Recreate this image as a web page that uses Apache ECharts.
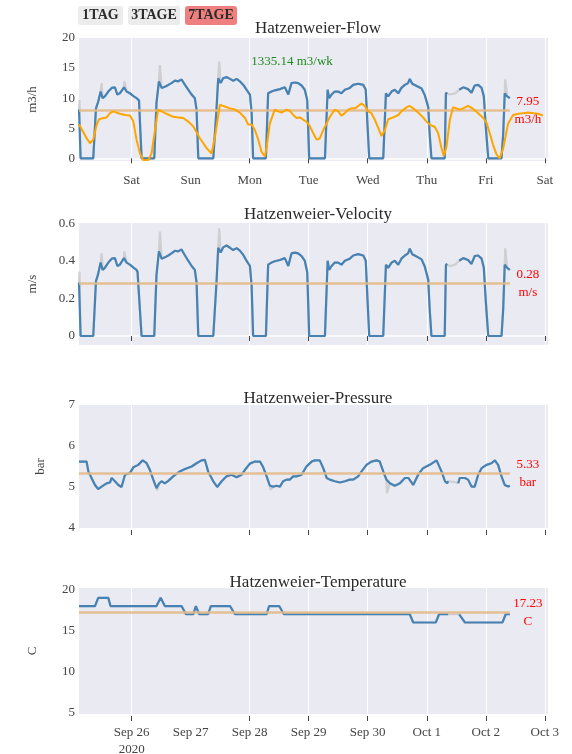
<!DOCTYPE html>
<html><head><meta charset="utf-8">
<script src="https://cdn.jsdelivr.net/npm/echarts@6/dist/echarts.min.js"></script>
<style>html,body{margin:0;padding:0;background:#fff}#c{width:572px;height:754px}</style>
</head><body><div id="c"></div>
<script>
// ---------- DATA (hours relative to 2020-09-26 00:00) ----------
const flowHours = [-21.4,-20.75,-15.6,-14.5,-13.6,-12.6,-11.8,-10.9,-9.5,-8.1,-6.8,-5.8,-4.8,-3.1,-2.05,-0.7,0.9,2.0,2.4,3.0,4.05,
  9.2,10.1,11.1,12.2,13.5,14.9,16.2,17.6,18.9,20.3,21.7,23.0,24.4,25.7,26.4,27.1,
  33.2,34.5,35.2,36.2,37.2,38.6,40.0,41.3,42.7,44.0,45.4,46.7,48.1,48.8,49.4,
  54.6,55.5,56.9,58.2,60.3,62.3,63.7,65.0,66.4,67.7,69.1,70.4,71.4,72.2,
  78.6,79.7,80.3,81.3,82.6,84.0,85.3,86.7,88.7,90.1,92.1,94.2,95.2,95.8,96.6,
  102.3,103.4,104.3,105.7,107.0,108.4,109.7,111.1,112.4,113.1,114.1,115.1,116.5,117.9,119.2,120.6,121.2,121.9,
  127.3,127.8,128.4,130.8,133.2,134.8,136.8,138.2,139.5,140.9,142.3,143.2,144.0,145.0,
  150.4,151.1,151.7,152.7,153.1,153.8];
const flowValues = [8.1,0,0,8.3,9.4,11.1,10.0,10.3,11.1,11.7,11.8,10.6,10.8,11.8,11.1,10.8,10.3,10.0,9.7,9.6,0,
  0,9.2,12.8,11.7,11.9,12.2,12.5,12.9,12.8,13.1,12.2,11.4,10.6,10.0,8.1,0,
  0,8.1,13.3,12.5,13.3,13.5,13.2,12.9,13.2,12.8,12.2,11.4,10.6,7.5,0,
  0,10.8,11.1,11.3,11.5,11.8,10.6,12.5,12.6,12.5,12.1,11.4,9.7,0,
  0,11.4,10.0,10.6,11.1,11.1,10.8,11.4,11.7,12.2,12.4,12.2,11.4,6.4,0,
  0,10.8,10.3,11.1,11.4,10.8,11.7,12.2,12.5,13.2,12.4,12.2,11.9,11.6,10.5,8.5,4.0,0,
  0,10.8,10.9,null,11.4,11.8,11.5,10.9,12.1,12.2,11.7,10.3,5.3,0,
  0,4.2,10.8,10.3,10.6,10.0];
const velocityValues = [0.285,0,0,0.292,0.331,0.391,0.352,0.363,0.391,0.412,0.415,0.373,0.380,0.415,0.391,0.380,0.363,0.352,0.341,0.338,0,
  0,0.324,0.451,0.412,0.419,0.429,0.440,0.454,0.451,0.461,0.429,0.401,0.373,0.352,0.285,0,
  0,0.285,0.470,0.445,0.472,0.482,0.470,0.458,0.468,0.455,0.432,0.401,0.373,0.264,0,
  0,0.380,0.391,0.398,0.405,0.415,0.373,0.440,0.444,0.440,0.426,0.401,0.341,0,
  0,0.401,0.352,0.373,0.391,0.391,0.380,0.401,0.412,0.429,0.436,0.429,0.401,0.225,0,
  0,0.380,0.363,0.391,0.401,0.380,0.412,0.429,0.440,0.465,0.436,0.429,0.419,0.408,0.370,0.299,0.141,0,
  0,0.380,0.384,null,0.401,0.415,0.405,0.384,0.426,0.429,0.412,0.363,0.187,0,
  0,0.148,0.380,0.363,0.373,0.352];
const flowSpikeHours = [-21.2,-12.2,-3.0,11.5,35.6,129.5,131.5,151.9];
const flowSpikeValues = [9.7,12.5,12.8,15.5,16.1,10.6,10.8,13.1];
const velocitySpikeHours = [-21.2,-12.2,-3.0,11.5,35.6,129.5,131.5,151.9];
const velocitySpikeValues = [0.343,0.44,0.45,0.556,0.574,0.373,0.38,0.467];

const avgFlowHours = [-21.4,-19.7,-18.3,-16.9,-15.6,-14.2,-13.2,-11.5,-10.2,-8.8,-7.5,-6.1,-4.8,-2.7,-0.7,0.7,2.0,3.4,4.7,6.8,8.1,9.5,10.8,12.2,14.2,16.9,19.0,21.0,23.0,25.1,27.8,30.5,32.5,33.9,35.9,37.9,40.0,42.0,44.0,46.1,47.4,48.8,50.1,51.5,52.8,54.2,54.9,56.2,58.2,59.6,60.9,63.0,64.3,65.7,67.1,68.4,69.8,71.1,72.5,73.8,75.2,76.5,77.9,79.3,80.6,82.6,84.0,85.3,86.7,88.1,89.4,90.8,92.1,93.5,94.8,96.2,97.5,98.9,100.3,101.6,103.0,104.3,106.4,108.4,109.7,111.8,113.1,114.5,116.5,118.5,119.9,121.2,123.3,124.6,126.0,126.9,128.0,129.4,130.7,132.1,133.4,134.8,136.8,138.9,140.9,143.0,144.3,145.6,147.0,148.4,149.7,151.1,153.1,155.1,157.2,159.2,161.2,163.3,165.3,167.3];
const avgFlowValues = [5.6,4.4,3.3,2.5,3.1,5.6,6.5,6.7,6.8,7.5,7.8,7.6,7.4,7.2,7.1,6.1,3.1,0.8,-0.3,-0.3,0.8,4.7,8.1,7.8,7.4,6.9,6.8,6.7,6.1,5.3,3.3,1.7,0.8,3.6,8.9,8.6,8.3,8.1,7.6,6.7,5.6,5.6,4.7,3.1,1.1,0.3,1.9,5.8,8.1,7.8,7.6,8.1,7.9,7.2,6.7,6.8,6.4,6.1,5.3,4.2,3.1,3.3,4.7,5.8,6.9,8.1,7.8,7.1,7.5,8.1,8.3,8.3,8.7,9.1,8.7,7.8,7.5,6.4,5.0,3.7,4.7,6.5,6.8,7.2,7.8,8.5,8.7,8.3,7.6,6.8,6.1,5.6,5.2,4.2,1.7,0.4,1.9,6.4,8.5,8.3,8.1,8.3,8.7,8.2,7.5,6.7,5.9,4.2,2.2,0.6,0,1.7,5.8,7.2,7.4,7.5,7.6,7.5,7.4,7.1];

const pressureHours = [-21.4,-18.3,-17.6,-16.3,-14.9,-13.6,-12.2,-10.2,-8.8,-8.1,-6.8,-5.4,-4.1,-2.7,-0.7,0.7,2.7,4.5,6.1,7.4,8.8,10.1,11.2,12.2,13.5,14.9,16.9,19.6,21.7,24.4,26.4,28.4,29.8,31.1,33.2,34.8,36.6,38.6,40.6,42.7,44.7,46.1,48.1,50.1,52.2,53.5,54.9,56.2,57.6,58.9,60.3,61.6,63.0,64.3,65.7,67.1,69.1,71.1,73.2,74.5,76.5,77.9,79.3,80.6,82.6,84.7,86.7,88.7,90.1,92.1,93.5,95.5,97.5,99.6,100.9,102.3,103.6,105.0,107.0,109.1,111.1,112.5,114.5,116.5,118.5,121.2,124.0,126.0,127.4,128.3,128.7,130.8,132.8,133.4,135.5,136.8,138.2,139.5,140.9,142.3,144.3,146.3,147.7,149.0,150.4,151.7,153.1,153.8];
const pressureValues = [5.62,5.62,5.38,5.22,5.05,4.95,5.01,5.09,5.11,5.22,5.14,5.05,5.0,5.30,5.34,5.48,5.54,5.65,5.58,5.42,5.18,4.97,5.09,5.14,5.09,5.15,5.26,5.38,5.44,5.50,5.58,5.65,5.66,5.38,5.14,5.0,5.14,5.26,5.30,5.24,5.30,5.42,5.57,5.62,5.62,5.48,5.26,5.03,5.01,5.03,5.01,5.14,5.18,5.18,5.26,5.26,5.30,5.50,5.62,5.65,5.65,5.46,5.22,5.18,5.14,5.11,5.14,5.18,5.18,5.26,5.38,5.54,5.62,5.65,5.62,5.38,5.18,5.09,5.03,5.09,5.22,5.22,5.05,5.30,5.46,5.54,5.65,5.38,5.14,5.09,5.14,null,5.09,5.22,5.22,5.18,5.01,5.01,5.30,5.46,5.54,5.58,5.65,5.54,5.26,5.05,5.01,5.03];
const pressureSpikeHours = [10.4,56.5,103.8,129.5,131.5];
const pressureSpikeValues = [4.92,4.93,4.85,5.10,5.12];

const tempHours = [-21.4,-14.9,-13.6,-9.5,-8.6,10.1,11.8,13.5,20.3,22.1,25.1,26.1,27.5,31.1,32.2,40.0,42.0,54.9,55.9,60.0,61.9,113.1,114.5,123.7,125.0,128.7,130.8,133.2,135.5,150.8,152.1,153.8];
const tempValues = [18,18,19,19,18,18,19,18,18,17,17,18,17,17,18,18,17,17,18,18,17,17,16,16,17,17,null,17,16,16,17,17];
const tempSpikeHours = [129.5,131.5];
const tempSpikeValues = [17,17];

const meanValues = [7.95, 0.28, 5.33, 17.23];
const meanUnits = ['m3/h', 'm/s', 'bar', 'C'];
const meanStartHour = -21.4, meanEndHour = 153.8;
const panelTitles = ['Hatzenweier-Flow', 'Hatzenweier-Velocity', 'Hatzenweier-Pressure', 'Hatzenweier-Temperature'];
const yTickValues = [[0,5,10,15,20],[0,0.2,0.4,0.6],[4,5,6,7],[5,10,15,20]];
const weekdayLabels = ['Sat','Sun','Mon','Tue','Wed','Thu','Fri','Sat'];
const dateLabels = ['Sep 26\n2020','Sep 27','Sep 28','Sep 29','Sep 30','Oct 1','Oct 2','Oct 3'];
const tickDays = [0,2,3,4,5,6,7];
const labelDays = [0,1,2,3,4,5,6,7];
const weeklyVolume = '1335.14 m3/wk';
const buttonLabels = ['1TAG','3TAGE','7TAGE'];

// ---------- CHART ----------
const BASE = Date.UTC(2020, 8, 26);
const HOUR = 3600000, DAY = 86400000;
const toMs = h => BASE + h * HOUR;
const FONT = '"Liberation Serif", "Times New Roman", serif';

function pairs(hours, values) {
  return hours.map((h, i) => [toMs(h), values[i] === null ? '-' : values[i]]);
}
function rawPairs(hours, values, sh, sv) {
  const pts = [];
  hours.forEach((h, i) => { if (values[i] !== null) pts.push([h, values[i]]); });
  sh.forEach((h, i) => pts.push([h, sv[i]]));
  pts.sort((a, b) => a[0] - b[0]);
  return pts.map(p => [toMs(p[0]), p[1]]);
}

const grids = [
  {left: 79, width: 469, top: 38, height: 123},
  {left: 79, width: 469, top: 223, height: 122},
  {left: 79, width: 469, top: 405, height: 123},
  {left: 79, width: 469, top: 588, height: 126}
].map(g => Object.assign(g, {show: true, backgroundColor: '#eaeaf2', borderWidth: 0, containLabel: false, outerBoundsMode: 'none'}));

const yRanges = [[-0.45, 20], [-0.048, 0.602], [4, 7], [4.85, 20.2]];
const yNameGaps = [40, 40, 32, 40];
const xLabelMargins = [9, 9, 9, 8];

const xAxes = [0,1,2,3].map(i => ({
  type: 'value', gridIndex: i,
  min: toMs(-21.4), max: toMs(169.3),
  offset: 2,
  axisLine: {show: false},
  axisTick: {show: true, length: 5, lineStyle: {color: '#444'}, customValues: tickDays.map(d => BASE + d * DAY)},
  splitLine: {show: true, lineStyle: {color: '#ffffff', width: 1}},
  axisLabel: {
    show: i === 0 || i === 3,
    customValues: labelDays.map(d => BASE + d * DAY),
    margin: xLabelMargins[i],
    fontFamily: FONT, fontSize: 13, color: '#444', lineHeight: 17,
    formatter: v => {
      const d = Math.round((v - BASE) / DAY);
      return i === 0 ? weekdayLabels[d] : dateLabels[d];
    }
  }
}));

const yAxes = [0,1,2,3].map(i => ({
  type: 'value', gridIndex: i,
  min: yRanges[i][0], max: yRanges[i][1],
  name: meanUnits[i], nameLocation: 'middle', nameGap: yNameGaps[i],
  nameTextStyle: {fontFamily: FONT, fontSize: 13, color: '#444'},
  axisLine: {show: false},
  axisTick: {show: false, customValues: i < 2 ? [0] : []},
  splitLine: {show: i < 2, lineStyle: {color: '#ffffff', width: 1.5}},
  axisLabel: {
    customValues: yTickValues[i], margin: 4,
    fontFamily: FONT, fontSize: 13, color: '#444',
    formatter: v => String(v)
  }
}));

const rawSets = [
  rawPairs(flowHours, flowValues, flowSpikeHours, flowSpikeValues),
  rawPairs(flowHours, velocityValues, velocitySpikeHours, velocitySpikeValues),
  rawPairs(pressureHours, pressureValues, pressureSpikeHours, pressureSpikeValues),
  rawPairs(tempHours, tempValues, tempSpikeHours, tempSpikeValues)
];
const mainSets = [
  pairs(flowHours, flowValues),
  pairs(flowHours, velocityValues),
  pairs(pressureHours, pressureValues),
  pairs(tempHours, tempValues)
];

const series = [];
[0,1,2,3].forEach(i => {
  series.push({
    type: 'line', xAxisIndex: i, yAxisIndex: i, data: rawSets[i],
    showSymbol: false, silent: true, z: 2,
    lineStyle: {color: 'rgba(200,200,200,0.8)', width: 2.2}
  });
  series.push({
    type: 'line', xAxisIndex: i, yAxisIndex: i, data: mainSets[i],
    showSymbol: false, connectNulls: false, z: 3,
    lineStyle: {color: '#4682b4', width: 2.2}
  });
  series.push({
    type: 'line', xAxisIndex: i, yAxisIndex: i,
    data: [[toMs(meanStartHour), meanValues[i]], [toMs(meanEndHour), meanValues[i]]],
    showSymbol: false, z: 4,
    lineStyle: {color: 'rgba(226,186,136,0.9)', width: 2.5},
    endLabel: {
      show: true, distance: 5,
      formatter: () => '{v|' + meanValues[i] + '}\n{u|' + meanUnits[i] + '}',
      rich: {
        v: {color: '#ff0000', fontFamily: FONT, fontSize: 13, lineHeight: 18, align: 'center', width: 26},
        u: {color: '#ff0000', fontFamily: FONT, fontSize: 13, lineHeight: 18, align: 'center', width: 26}
      }
    }
  });
});
series.push({
  type: 'line', xAxisIndex: 0, yAxisIndex: 0, data: pairs(avgFlowHours, avgFlowValues),
  showSymbol: false, z: 5,
  lineStyle: {color: '#ffa500', width: 2}
});

const titles = panelTitles.map((t, i) => ({
  text: t, left: 313, textAlign: 'center', top: [15, 201, 385, 569][i],
  textStyle: {fontFamily: FONT, fontSize: 17, fontWeight: 'normal', color: '#2a2a2a'}
}));

const btnX = [78, 128, 185], btnW = [45, 52, 52];
const graphics = [];
buttonLabels.forEach((b, i) => {
  graphics.push({type: 'rect', left: btnX[i], top: 6, shape: {width: btnW[i], height: 19, r: 3},
    style: {fill: i === 2 ? '#f08080' : '#ececec'}});
  graphics.push({type: 'text', x: btnX[i] + btnW[i] / 2, y: 15.5,
    style: {text: b, fill: '#2b2b2b', font: 'bold 14px ' + FONT, textAlign: 'center', textVerticalAlign: 'middle'}});
});
graphics.push({type: 'text', x: 292, y: 62, z: 10,
  style: {text: weeklyVolume, fill: '#1f8a1f', font: '13px ' + FONT, textAlign: 'center', textVerticalAlign: 'middle'}});

const chart = echarts.init(document.getElementById('c'), null, {renderer: 'canvas'});
chart.setOption({
  animation: false,
  backgroundColor: '#ffffff',
  title: titles,
  grid: grids,
  xAxis: xAxes,
  yAxis: yAxes,
  series: series,
  graphic: graphics
});
</script></body></html>
